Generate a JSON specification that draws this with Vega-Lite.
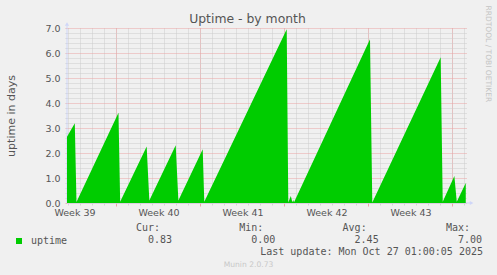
{
  "$schema": "https://vega.github.io/schema/vega-lite/v6.json",
  "width": 400,
  "height": 175,
  "autosize": {"type": "none"},
  "padding": {"left": 67, "top": 28, "right": 30, "bottom": 72},
  "background": "#f0f0f0",
  "title": {"text": "Uptime - by month", "font": "DejaVu Sans", "fontSize": 12.4, "fontWeight": "normal", "color": "#555555", "anchor": "middle", "frame": "group", "dx": -19.5, "offset": -20},
  "config": {"view": {"stroke": null}, "font": "DejaVu Sans"},
  "resolve": {"scale": {"x": "independent", "y": "independent"}},
  "layer": [
    {
      "data": {"values": [
        {"day": 0, "uptime": 2.65},
        {"day": 0.65, "uptime": 3.19},
        {"day": 0.79, "uptime": 0.04},
        {"day": 4.29, "uptime": 3.61},
        {"day": 4.43, "uptime": 0.05},
        {"day": 6.64, "uptime": 2.26},
        {"day": 6.86, "uptime": 0.1},
        {"day": 9.06, "uptime": 2.31},
        {"day": 9.28, "uptime": 0.1},
        {"day": 11.31, "uptime": 2.15},
        {"day": 11.44, "uptime": 0.05},
        {"day": 18.31, "uptime": 6.95},
        {"day": 18.44, "uptime": 0.02},
        {"day": 18.65, "uptime": 0.28},
        {"day": 18.78, "uptime": 0.03},
        {"day": 18.85, "uptime": 0.12},
        {"day": 18.92, "uptime": 0.03},
        {"day": 25.25, "uptime": 6.55},
        {"day": 25.44, "uptime": 0.02},
        {"day": 31.14, "uptime": 5.83},
        {"day": 31.31, "uptime": 0.05},
        {"day": 32.28, "uptime": 1.08},
        {"day": 32.48, "uptime": 0.05},
        {"day": 33.23, "uptime": 0.8}
      ]},
      "resolve": {"axis": {"x": "independent", "y": "independent"}},
      "layer": [
        {
          "data": {"values": [{}]},
          "mark": {"type": "rule", "color": "#cfd6f8", "strokeWidth": 1},
          "encoding": {
            "x": {"datum": 0, "type": "quantitative", "axis": null},
            "y": {"datum": 0, "type": "quantitative", "axis": null},
            "y2": {"datum": 7.1}
          }
        },
        {
          "data": {"values": [{}]},
          "mark": {"type": "rule", "color": "#cfd6f8", "strokeWidth": 1},
          "encoding": {
            "x": {"datum": 0, "type": "quantitative", "axis": null},
            "x2": {"datum": 33.6},
            "y": {"datum": 0, "type": "quantitative", "axis": null}
          }
        },
        {
          "data": {"values": [{}]},
          "mark": {"type": "point", "shape": "triangle-up", "filled": true, "color": "#cfd6f8", "size": 18, "opacity": 1},
          "encoding": {
            "x": {"datum": 0, "type": "quantitative", "axis": null},
            "y": {"datum": 7.16, "type": "quantitative", "axis": null}
          }
        },
        {
          "data": {"values": [{}]},
          "mark": {"type": "point", "shape": "triangle-right", "filled": true, "color": "#cfd6f8", "size": 18, "opacity": 1},
          "encoding": {
            "x": {"datum": 33.72, "type": "quantitative", "axis": null},
            "y": {"datum": 0, "type": "quantitative", "axis": null}
          }
        },
        {
          "mark": {"type": "area", "interpolate": "linear"},
          "encoding": {
            "x": {"field": "day", "type": "quantitative",
              "scale": {"domain": [0, 33.333], "nice": false, "zero": false},
              "axis": {"values": [0.12,1.12,2.12,3.12,4.12,5.12,6.12,7.12,8.12,9.12,10.12,11.12,12.12,13.12,14.12,15.12,16.12,17.12,18.12,19.12,20.12,21.12,22.12,23.12,24.12,25.12,26.12,27.12,28.12,29.12,30.12,31.12,32.12,33.12],
                "grid": true, "gridColor": "#cccccc", "gridDash": [1, 1], "gridWidth": 1,
                "ticks": true, "tickSize": 2, "tickColor": "#d4d4d4",
                "labels": false, "domain": false, "title": null, "orient": "bottom"}
            },
            "y": {"field": "uptime", "type": "quantitative",
              "scale": {"domain": [0, 7], "nice": false, "zero": true},
              "axis": {"values": [0.2,0.4,0.6,0.8,1.2,1.4,1.6,1.8,2.2,2.4,2.6,2.8,3.2,3.4,3.6,3.8,4.2,4.4,4.6,4.8,5.2,5.4,5.6,5.8,6.2,6.4,6.6,6.8],
                "grid": true, "gridColor": "#cccccc", "gridDash": [1, 1], "gridWidth": 1,
                "ticks": true, "tickSize": 2, "tickColor": "#d4d4d4",
                "labels": false, "domain": false, "title": null, "orient": "left"}
            },
            "color": {"datum": "uptime", "type": "nominal",
              "scale": {"domain": ["uptime"], "range": ["#00cc00"]},
              "legend": {"orient": "none", "legendX": -53, "legendY": 208, "title": null,
                "symbolType": "square", "symbolSize": 36, "symbolStrokeWidth": 0,
                "labelFont": "DejaVu Sans Mono", "labelFontSize": 10, "labelColor": "#555555",
                "labelOffset": 7, "padding": 0}
            }
          }
        },
        {
          "mark": {"type": "line", "opacity": 0},
          "encoding": {
            "x": {"field": "day", "type": "quantitative",
              "axis": {"values": [4.12, 11.12, 18.12, 25.12, 32.12],
                "grid": true, "gridColor": "#eba5a5", "gridDash": [1, 1], "gridWidth": 1,
                "ticks": true, "tickSize": 3, "tickColor": "#eba5a5",
                "labels": false, "domain": false, "title": null, "orient": "bottom"}
            },
            "y": {"field": "uptime", "type": "quantitative",
              "axis": {"values": [0, 1, 2, 3, 4, 5, 6, 7], "format": ".1f",
                "grid": true, "gridColor": "#eba5a5", "gridDash": [1, 1], "gridWidth": 1,
                "ticks": true, "tickSize": 2, "tickColor": "#e8b8b8",
                "labels": true, "labelFont": "DejaVu Sans", "labelFontSize": 9.5, "labelColor": "#555555", "labelPadding": 5,
                "domain": false, "orient": "left",
                "title": "uptime in days", "titleFont": "DejaVu Sans", "titleFontSize": 11, "titleFontWeight": "normal", "titleColor": "#555555",
                "titleX": -56, "titleY": 87.5, "titleAngle": 270, "titleAlign": "center", "titleBaseline": "middle"}
            }
          }
        },
        {
          "mark": {"type": "line", "opacity": 0},
          "encoding": {
            "x": {"field": "day", "type": "quantitative",
              "axis": {"values": [0.62, 7.62, 14.62, 21.62, 28.62],
                "labelExpr": "'Week ' + (39 + round((datum.value - 0.62) / 7))",
                "grid": false, "ticks": false, "tickSize": 0, "domain": false,
                "labels": true, "labelFont": "DejaVu Sans", "labelFontSize": 9.5, "labelColor": "#555555", "labelPadding": 4, "labelFlush": false, "labelOverlap": false,
                "orient": "bottom",
                "title": "Munin 2.0.73", "titleFont": "DejaVu Sans", "titleFontSize": 7.6, "titleFontWeight": "normal", "titleColor": "#c8c8c8",
                "titleX": 181, "titleY": 61, "titleAlign": "center", "titleBaseline": "middle", "titleAngle": 0}
            },
            "y": {"field": "uptime", "type": "quantitative",
              "axis": {"orient": "right", "labels": false, "ticks": false, "domain": false, "grid": false,
                "title": "RRDTOOL / TOBI OETIKER", "titleFont": "DejaVu Sans", "titleFontSize": 7.5, "titleFontWeight": "normal", "titleColor": "#c4c4c4",
                "titleAngle": 90, "titleX": 20, "titleY": -23, "titleAlign": "left", "titleBaseline": "middle"}
            }
          }
        }
      ]
    },
    {
      "data": {"values": [
        {"stat": "Cur", "header": "Cur:", "value": "0.83"},
        {"stat": "Min", "header": "Min:", "value": "0.00"},
        {"stat": "Avg", "header": "Avg:", "value": "2.45"},
        {"stat": "Max", "header": "Max:", "value": "7.00"}
      ]},
      "layer": [
        {
          "mark": {"type": "text", "align": "right", "baseline": "middle", "font": "DejaVu Sans Mono", "fontSize": 10, "color": "#555555"},
          "encoding": {
            "x": {"field": "stat", "type": "nominal", "scale": {"type": "point", "padding": 0, "domain": ["Cur", "Min", "Avg", "Max"], "range": [93, 403]}, "axis": null},
            "y": {"datum": "header", "type": "nominal", "scale": {"type": "point", "padding": 0, "domain": ["header", "value", "update"], "range": [200, 224]}, "axis": null},
            "text": {"field": "header"}
          }
        },
        {
          "mark": {"type": "text", "align": "right", "baseline": "middle", "font": "DejaVu Sans Mono", "fontSize": 10, "color": "#555555", "dx": 12},
          "encoding": {
            "x": {"field": "stat", "type": "nominal", "axis": null},
            "y": {"datum": "value", "type": "nominal", "axis": null},
            "text": {"field": "value"}
          }
        },
        {
          "data": {"values": [{"text": "Last update: Mon Oct 27 01:00:05 2025"}]},
          "mark": {"type": "text", "align": "right", "baseline": "middle", "font": "DejaVu Sans Mono", "fontSize": 10, "color": "#555555", "dx": 13},
          "encoding": {
            "x": {"datum": "Max", "type": "nominal", "axis": null},
            "y": {"datum": "update", "type": "nominal", "axis": null},
            "text": {"field": "text"}
          }
        }
      ]
    }
  ]
}
